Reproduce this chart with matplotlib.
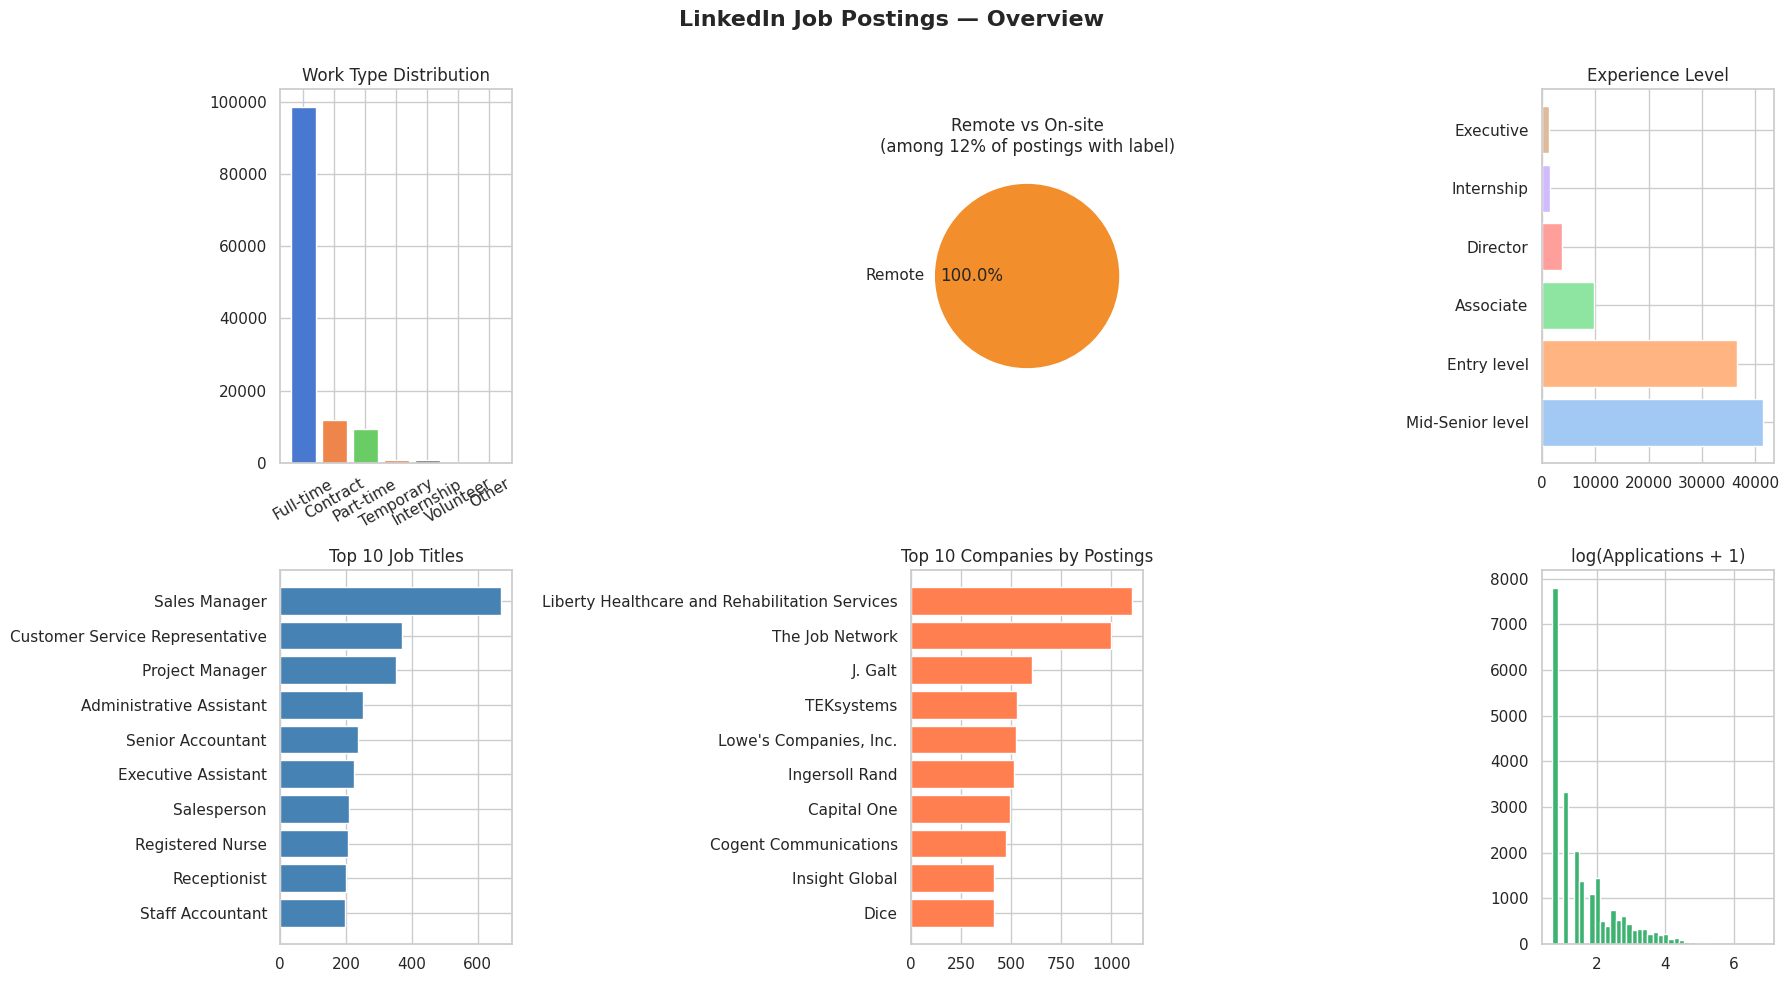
import numpy as np
import matplotlib
matplotlib.use("Agg")
import matplotlib.pyplot as plt
import seaborn as sns

# work type counts
work_types = ["Full-time", "Contract", "Part-time", "Temporary", "Internship", "Volunteer", "Other"]
work_counts = [98600, 11900, 9500, 850, 800, 150, 60]
work_colors = ["#4878d0", "#ee854a", "#6acc64", "#ee854a", "#797979", "#956cb4", "#8c613c"]

# remote share
remote_labels = ["Remote"]
remote_values = [1]

# experience level
exp_levels = ["Mid-Senior level", "Entry level", "Associate", "Director", "Internship", "Executive"]
exp_counts = [41400, 36600, 9800, 3730, 1430, 1240]

# top titles
titles = ["Sales Manager", "Customer Service Representative", "Project Manager",
          "Administrative Assistant", "Senior Accountant", "Executive Assistant",
          "Salesperson", "Registered Nurse", "Receptionist", "Staff Accountant"]
title_counts = [671, 370, 351, 251, 236, 224, 209, 206, 200, 198]

# top companies
companies = ["Liberty Healthcare and Rehabilitation Services", "The Job Network", "J. Galt",
             "TEKsystems", "Lowe's Companies, Inc.", "Ingersoll Rand", "Capital One",
             "Cogent Communications", "Insight Global", "Dice"]
company_counts = [1104, 1000, 604, 527, 522, 513, 493, 473, 413, 413]

# histogram of log(applies + 1), 40 bins
hist_lo = 0.693
hist_hi = 6.87
hist_counts = [7800, 0, 3330, 0, 2040, 1370, 0, 1090, 1440, 490,
               390, 740, 520, 600, 430, 300, 320, 320, 225, 255,
               185, 205, 100, 120, 75, 40, 30, 15, 10, 8,
               5, 4, 3, 2, 2, 1, 1, 1, 0, 1]


def main():
    sns.set_theme(style="whitegrid")
    fig, axes = plt.subplots(2, 3, figsize=(18, 10), dpi=100)

    ax = axes[0, 0]
    ax.bar(work_types, work_counts, color=work_colors)
    ax.set_title("Work Type Distribution")
    ax.tick_params(axis="x", rotation=30)

    ax = axes[0, 1]
    ax.pie(remote_values, labels=remote_labels, autopct="%1.1f%%", colors=["#f28e2b"])
    ax.set_title("Remote vs On-site\n(among 12% of postings with label)")

    ax = axes[0, 2]
    ax.barh(exp_levels, exp_counts, color=sns.color_palette("pastel")[:len(exp_levels)])
    ax.set_title("Experience Level")

    ax = axes[1, 0]
    ax.barh(titles[::-1], title_counts[::-1], color="steelblue")
    ax.set_title("Top 10 Job Titles")

    ax = axes[1, 1]
    ax.barh(companies[::-1], company_counts[::-1], color="coral")
    ax.set_title("Top 10 Companies by Postings")

    ax = axes[1, 2]
    edges = np.linspace(hist_lo, hist_hi, len(hist_counts) + 1)
    centers = (edges[:-1] + edges[1:]) / 2
    ax.hist(centers, bins=edges, weights=hist_counts, color="mediumseagreen", edgecolor="white")
    ax.set_title("log(Applications + 1)")

    fig.suptitle("LinkedIn Job Postings — Overview", fontsize=16, fontweight="bold")
    fig.tight_layout()
    fig.savefig("out.png", bbox_inches="tight")


if __name__ == "__main__":
    main()
